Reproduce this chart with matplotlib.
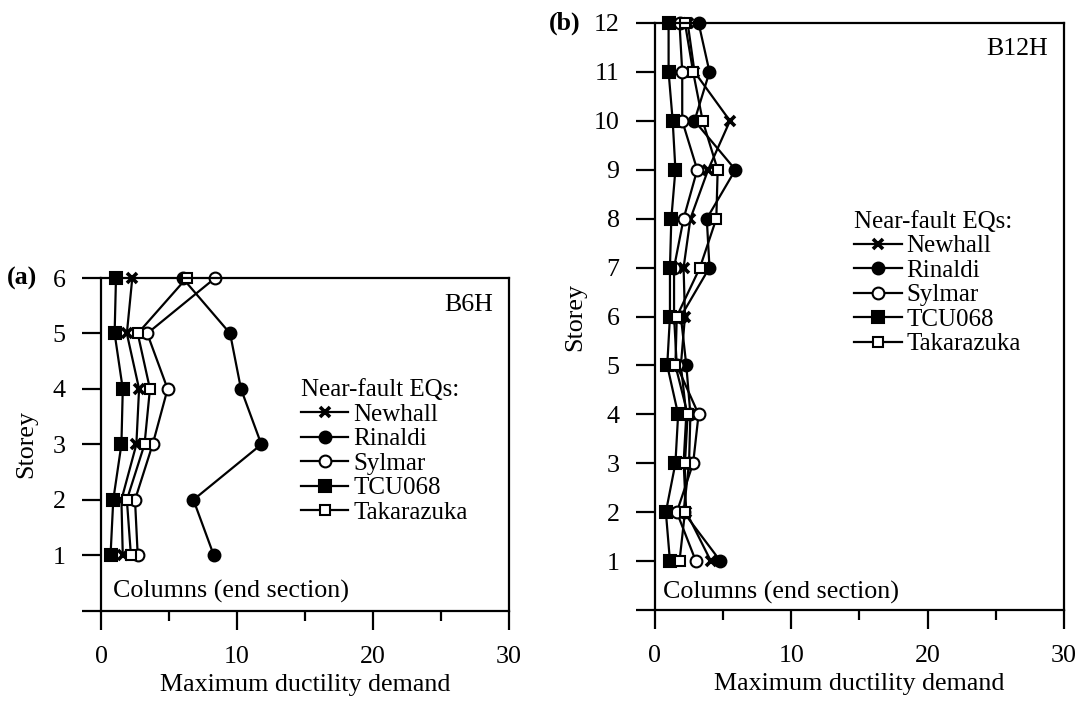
import matplotlib
matplotlib.use("Agg")
import matplotlib.pyplot as plt
from matplotlib.ticker import MultipleLocator

plt.rcParams['font.family'] = ['Liberation Serif', 'DejaVu Serif']

# earthquake records, same order as the legend
records = ["Newhall", "Rinaldi", "Sylmar", "TCU068", "Takarazuka"]

# (a) B6H, storeys 1..6
storeys_6 = [1, 2, 3, 4, 5, 6]
b6h_newhall = [1.6, 1.5, 2.6, 2.8, 1.9, 2.3]
b6h_rinaldi = [8.3, 6.8, 11.8, 10.3, 9.5, 6.0]
b6h_sylmar = [2.7, 2.5, 3.8, 4.9, 3.4, 8.4]
b6h_tcu068 = [0.7, 0.9, 1.5, 1.6, 1.0, 1.1]
b6h_takarazuka = [2.2, 1.9, 3.2, 3.6, 2.7, 6.3]

# (b) B12H, storeys 1..12
storeys_12 = [1, 2, 3, 4, 5, 6, 7, 8, 9, 10, 11, 12]
b12h_newhall = [4.1, 2.3, 2.1, 2.3, 1.9, 2.2, 2.1, 2.6, 3.9, 5.5, 2.9, 2.4]
b12h_rinaldi = [4.8, 2.1, 2.5, 2.6, 2.3, 1.9, 4.0, 3.8, 5.9, 2.9, 4.0, 3.2]
b12h_sylmar = [3.0, 1.6, 2.8, 3.2, 1.6, 1.4, 1.4, 2.1, 3.1, 2.0, 2.0, 1.8]
b12h_tcu068 = [1.1, 0.8, 1.5, 1.7, 0.9, 1.1, 1.1, 1.2, 1.5, 1.3, 1.0, 1.0]
b12h_takarazuka = [1.8, 2.2, 2.2, 2.4, 1.5, 1.6, 3.3, 4.5, 4.6, 3.5, 2.8, 2.2]

# marker style per record
styles = {
    "Newhall": dict(marker='x', mfc='black', ms=7.5, mew=2.6),
    "Rinaldi": dict(marker='o', mfc='black', ms=8.5, mew=1.5),
    "Sylmar": dict(marker='o', mfc='white', ms=8.5, mew=1.5),
    "TCU068": dict(marker='s', mfc='black', ms=8, mew=1.5),
    "Takarazuka": dict(marker='s', mfc='white', ms=7.5, mew=1.5),
}

FS = 18.7   # axis texts
LFS = 18    # legend


def draw_panel(ax, storeys, series, top, tag, tag_y, note_xy, leg_xy, ylab_x):
    for name, vals in zip(records, series):
        ax.plot(vals, storeys, color='black', lw=1.6, mec='black',
                label=name, clip_on=False, **styles[name])
    ax.set_xlim(0, 30)
    ax.set_ylim(0, top)
    ax.xaxis.set_major_locator(MultipleLocator(10))
    ax.xaxis.set_minor_locator(MultipleLocator(5))
    ax.set_yticks(range(0, top + 1))
    ax.set_yticklabels([''] + [str(i) for i in range(1, top + 1)])
    ax.tick_params(axis='both', which='major', direction='out', length=13.5,
                   width=1.6, labelsize=FS, pad=12)
    ax.tick_params(axis='x', which='minor', direction='out', length=7, width=1.6)
    for sp in ax.spines.values():
        sp.set_linewidth(1.6)
    ax.set_xlabel("Maximum ductility demand", fontsize=FS, labelpad=4)
    ax.set_ylabel("Storey", fontsize=FS)
    ax.yaxis.set_label_coords(ylab_x, 0.5)
    ax.text(0.962, tag_y, tag, transform=ax.transAxes, ha='right', va='center',
            fontsize=FS)
    ax.text(note_xy[0], note_xy[1], "Columns (end section)", transform=ax.transAxes,
            ha='left', va='center', fontsize=FS)
    ax.legend(title="Near-fault EQs:", loc='upper left', bbox_to_anchor=leg_xy,
              frameon=False, fontsize=LFS, title_fontsize=LFS, handlelength=1.9,
              handletextpad=0.2, labelspacing=0.08, borderpad=0, borderaxespad=0,
              alignment='left')


fig = plt.figure(figsize=(10.76, 7.01), dpi=100)
ax_a = fig.add_axes([0.0939, 0.1288, 0.3788, 0.4746])
ax_b = fig.add_axes([0.6087, 0.1298, 0.3801, 0.8374])

draw_panel(ax_a, storeys_6,
           [b6h_newhall, b6h_rinaldi, b6h_sylmar, b6h_tcu068, b6h_takarazuka],
           6, "B6H", 0.920, (0.029, 0.057), (0.49, 0.695), -0.157)
draw_panel(ax_b, storeys_12,
           [b12h_newhall, b12h_rinaldi, b12h_sylmar, b12h_tcu068, b12h_takarazuka],
           12, "B12H", 0.955, (0.02, 0.03), (0.487, 0.68), -0.167)

fig.text(22 / 1076, 1 - 278 / 701, "(a)", fontsize=FS, fontweight='bold',
         ha='center', va='center')
fig.text(565 / 1076, 1 - 23 / 701, "(b)", fontsize=FS, fontweight='bold',
         ha='center', va='center')

fig.savefig("out.png", dpi=100)
